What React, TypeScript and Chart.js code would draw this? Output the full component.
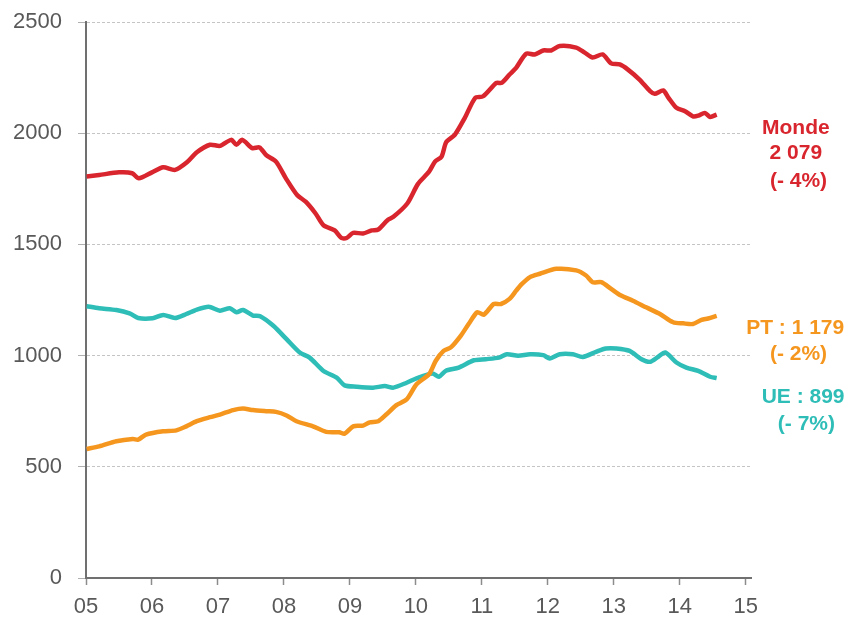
import React, { useEffect, useRef } from "react";
import { Chart, registerables } from "chart.js";

Chart.register(...registerables);

const mondeX = [2005.01, 2005.2, 2005.5, 2005.7, 2005.8, 2006.0, 2006.17, 2006.35, 2006.53, 2006.68, 2006.88, 2007.03, 2007.2, 2007.28, 2007.37, 2007.52, 2007.63, 2007.73, 2007.88, 2008.03, 2008.2, 2008.33, 2008.48, 2008.6, 2008.77, 2008.87, 2008.95, 2009.05, 2009.2, 2009.33, 2009.43, 2009.57, 2009.66, 2009.87, 2010.03, 2010.2, 2010.29, 2010.39, 2010.46, 2010.59, 2010.74, 2010.9, 2011.02, 2011.22, 2011.3, 2011.42, 2011.52, 2011.67, 2011.8, 2011.93, 2012.05, 2012.18, 2012.43, 2012.56, 2012.68, 2012.83, 2012.96, 2013.09, 2013.21, 2013.39, 2013.55, 2013.62, 2013.75, 2013.83, 2013.95, 2014.08, 2014.2, 2014.28, 2014.38, 2014.46, 2014.56];
const mondeY = [1805, 1812, 1824, 1820, 1797, 1824, 1847, 1835, 1869, 1914, 1948, 1943, 1970, 1948, 1970, 1933, 1936, 1902, 1872, 1797, 1722, 1692, 1639, 1586, 1563, 1529, 1529, 1552, 1549, 1563, 1567, 1609, 1624, 1684, 1771, 1827, 1872, 1895, 1960, 1993, 2068, 2159, 2166, 2226, 2226, 2264, 2294, 2357, 2354, 2372, 2372, 2392, 2385, 2362, 2340, 2354, 2314, 2309, 2287, 2241, 2189, 2177, 2192, 2159, 2114, 2099, 2076, 2079, 2091, 2073, 2084];

const ptX = [2005.01, 2005.2, 2005.46, 2005.71, 2005.79, 2005.91, 2006.17, 2006.37, 2006.52, 2006.68, 2006.88, 2007.03, 2007.23, 2007.38, 2007.53, 2007.73, 2007.88, 2008.04, 2008.19, 2008.44, 2008.64, 2008.84, 2008.92, 2009.05, 2009.2, 2009.3, 2009.43, 2009.55, 2009.7, 2009.86, 2010.01, 2010.2, 2010.3, 2010.42, 2010.53, 2010.68, 2010.8, 2010.93, 2011.03, 2011.18, 2011.29, 2011.42, 2011.52, 2011.6, 2011.73, 2011.88, 2012.13, 2012.43, 2012.58, 2012.68, 2012.81, 2012.96, 2013.11, 2013.29, 2013.49, 2013.7, 2013.9, 2014.05, 2014.2, 2014.33, 2014.43, 2014.56];
const ptY = [580, 592, 615, 625, 622, 645, 660, 664, 682, 705, 723, 735, 755, 762, 755, 750, 747, 731, 705, 682, 657, 655, 649, 682, 685, 700, 705, 735, 776, 803, 871, 916, 976, 1021, 1037, 1089, 1142, 1195, 1184, 1232, 1232, 1255, 1292, 1320, 1353, 1368, 1390, 1383, 1360, 1330, 1330, 1300, 1270, 1247, 1217, 1187, 1150, 1145, 1142, 1161, 1167, 1179];

const ueX = [2005.01, 2005.2, 2005.46, 2005.66, 2005.79, 2006.01, 2006.17, 2006.35, 2006.52, 2006.68, 2006.86, 2007.03, 2007.18, 2007.28, 2007.38, 2007.53, 2007.64, 2007.84, 2008.04, 2008.24, 2008.39, 2008.6, 2008.8, 2008.92, 2009.1, 2009.35, 2009.53, 2009.66, 2009.86, 2010.01, 2010.25, 2010.35, 2010.45, 2010.65, 2010.88, 2011.06, 2011.26, 2011.38, 2011.55, 2011.73, 2011.93, 2012.03, 2012.18, 2012.38, 2012.53, 2012.73, 2012.88, 2013.04, 2013.24, 2013.42, 2013.55, 2013.68, 2013.78, 2013.95, 2014.1, 2014.28, 2014.46, 2014.56];
const ueY = [1222, 1213, 1205, 1190, 1169, 1168, 1183, 1169, 1187, 1207, 1220, 1202, 1213, 1195, 1205, 1180, 1177, 1134, 1074, 1014, 991, 931, 901, 866, 860, 856, 863, 856, 878, 898, 920, 905, 931, 946, 979, 984, 991, 1006, 999, 1006, 1002, 987, 1006, 1006, 994, 1017, 1032, 1032, 1021, 984, 972, 996, 1014, 969, 946, 931, 905, 899];

const xTickLabels = ["05", "06", "07", "08", "09", "10", "11", "12", "13", "14", "15"];
const yTickValues = [0, 500, 1000, 1500, 2000, 2500];

const seriesNames = ["Monde", "PT", "UE"];
const seriesColors = ["#d9252d", "#f5961f", "#2ebdb7"];

// annotation texts, anchored at (year, value) on the chart scales
const annotationLines = [
  ["Monde", "2 079", "(- 4%)"],
  ["PT : 1 179", "(- 2%)"],
  ["UE : 899", "(- 7%)"],
];
const annotationAnchorX = [
  [2015.76, 2015.76, 2015.8],
  [2015.75, 2015.8],
  [2015.87, 2015.92],
];
const annotationAnchorY = [
  [2023, 1910, 1783],
  [1121, 1007],
  [812, 691],
];

const toPoints = (xs: number[], ys: number[]) => xs.map((x, i) => ({ x, y: ys[i] }));

export default function App() {
  const canvasRef = useRef<HTMLCanvasElement | null>(null);

  useEffect(() => {
    document.body.style.margin = "0";
    const canvas = canvasRef.current;
    if (!canvas) return;

    const annotationPlugin = {
      id: "rightLabels",
      afterDraw(chart: any) {
        const ctx = chart.ctx;
        const xs = chart.scales.x;
        const ys = chart.scales.y;
        ctx.save();
        ctx.font = "bold 21px 'Liberation Sans', Arial, sans-serif";
        ctx.textAlign = "center";
        ctx.textBaseline = "middle";
        annotationLines.forEach((lines, si) => {
          ctx.fillStyle = seriesColors[si];
          lines.forEach((t, li) => {
            ctx.fillText(
              t,
              xs.getPixelForValue(annotationAnchorX[si][li]),
              ys.getPixelForValue(annotationAnchorY[si][li])
            );
          });
        });
        ctx.restore();
      },
    };

    const chart = new Chart(canvas, {
      type: "line",
      data: {
        datasets: [
          { label: seriesNames[0], data: toPoints(mondeX, mondeY) },
          { label: seriesNames[1], data: toPoints(ptX, ptY) },
          { label: seriesNames[2], data: toPoints(ueX, ueY) },
        ].map((d, i) => ({
          ...d,
          borderColor: seriesColors[i],
          backgroundColor: seriesColors[i],
          borderWidth: 4.5,
          pointRadius: 0,
          tension: 0.25,
          fill: false,
        })),
      },
      options: {
        animation: false,
        responsive: false,
        maintainAspectRatio: false,
        layout: { padding: { left: 0, right: 103, top: 22, bottom: 0 } },
        plugins: { legend: { display: false }, tooltip: { enabled: false } },
        scales: {
          x: {
            type: "linear",
            min: 2005,
            max: 2015.08,
            afterFit: (s: any) => {
              s.height = 40;
              s.paddingLeft = 0;
              s.paddingRight = 0;
            },
            ticks: {
              stepSize: 1,
              includeBounds: false,
              color: "#595959",
              padding: 9,
              maxRotation: 0,
              autoSkip: false,
              font: { family: "'Liberation Sans', Arial, sans-serif", size: 22 },
              callback: (v: any) => xTickLabels[Math.round(Number(v) - 2005)] ?? "",
            },
            grid: {
              drawOnChartArea: false,
              drawTicks: true,
              tickLength: 7,
              tickColor: "#8c8c8c",
              tickWidth: 1.5,
            },
            border: { display: true, color: "#707070", width: 2 },
          },
          y: {
            type: "linear",
            min: 0,
            max: 2500,
            afterFit: (s: any) => {
              s.width = 86;
              s.paddingTop = 0;
              s.paddingBottom = 0;
            },
            afterBuildTicks: (s: any) => {
              s.ticks = yTickValues.map((v) => ({ value: v }));
            },
            ticks: {
              color: "#595959",
              padding: 16,
              font: { family: "'Liberation Sans', Arial, sans-serif", size: 22 },
              callback: (v: any) => String(v),
            },
            grid: {
              color: "#c4c4c4",
              lineWidth: 1,
              drawTicks: true,
              tickLength: 8,
              tickColor: "#b0b0b0",
              tickWidth: 1,
            },
            border: { display: true, color: "#707070", width: 2, dash: [3, 2] },
          },
        },
      },
      plugins: [annotationPlugin],
    });

    return () => {
      chart.destroy();
    };
  }, []);

  return (
    <div style={{ position: "relative", width: 854, height: 618, background: "#ffffff" }}>
      <canvas ref={canvasRef} width={854} height={618} style={{ display: "block" }} />
    </div>
  );
}
